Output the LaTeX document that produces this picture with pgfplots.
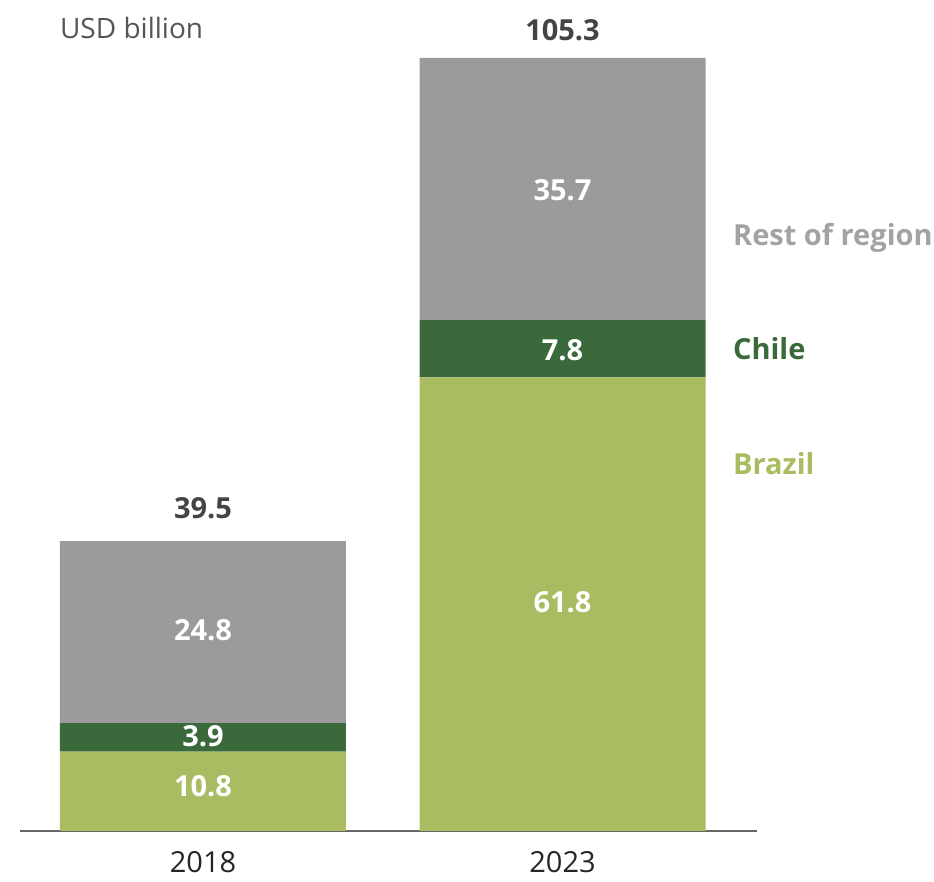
\documentclass[border=0pt]{standalone}
\usepackage{pgfplots}
\pgfplotsset{compat=1.18}
\usepackage{fontspec}
\setmainfont{Open Sans}

\definecolor{restgray}{HTML}{9C9A9C}
\definecolor{chilegreen}{HTML}{3A6A3B}
\definecolor{brazilgreen}{HTML}{A9BC62}
\definecolor{totalgray}{HTML}{444444}
\definecolor{labelgray}{HTML}{555555}
\definecolor{restlabel}{HTML}{A3A3A3}

\tikzset{
  inbar/.style={font=\fontsize{29}{34}\selectfont\bfseries, text=white},
  total/.style={font=\fontsize{29}{34}\selectfont\bfseries, text=totalgray},
  serieslab/.style={font=\fontsize{29}{34}\selectfont\bfseries, anchor=base west, inner sep=0pt},
}

\begin{document}
\begin{tikzpicture}
\useasboundingbox (0,0) rectangle (934pt,882pt);
\begin{axis}[
  at={(20pt,51pt)}, anchor=south west,
  scale only axis, width=737pt, height=807.5pt,
  ybar stacked, bar width=286pt,
  xmin=-0.509, xmax=1.541, ymin=0, ymax=110,
  axis x line*=bottom, hide y axis,
  axis line style={draw=black!60, line width=1.5pt},
  xtick={0,1}, xticklabels={2018,2023},
  major tick length=0pt,
  xticklabel style={font=\fontsize{29}{34}\selectfont, text=black!85, yshift=-17pt},
  clip=false,
]
\addplot[fill=brazilgreen, draw=none] coordinates {(0,10.8) (1,61.8)};
\addplot[fill=chilegreen, draw=none] coordinates {(0,3.9) (1,7.8)};
\addplot[fill=restgray, draw=none] coordinates {(0,24.8) (1,35.7)};

\coordinate (b18) at (axis cs:0,6.1);
\coordinate (c18) at (axis cs:0,12.9);
\coordinate (r18) at (axis cs:0,27.4);
\coordinate (b23) at (axis cs:1,31.1);
\coordinate (c23) at (axis cs:1,65.5);
\coordinate (r23) at (axis cs:1,87.3);

\node[total] at (axis cs:0,44.0) {39.5};
\node[total] at (axis cs:1,109.1) {105.3};

\node[serieslab, text=restlabel] at (axis cs:1.474,79.7) {Rest of region};
\node[serieslab, text=chilegreen] at (axis cs:1.474,64.2) {Chile};
\node[serieslab, text=brazilgreen] at (axis cs:1.474,48.5) {Brazil};

\node[anchor=base west, inner sep=0pt, text=labelgray, font=\fontsize{28}{33}\selectfont] at (axis cs:-0.398,107.9) {USD billion};
\end{axis}
\node[inbar] at (b18) {10.8};
\node[inbar] at (c18) {3.9};
\node[inbar] at (r18) {24.8};
\node[inbar] at (b23) {61.8};
\node[inbar] at (c23) {7.8};
\node[inbar] at (r23) {35.7};
\end{tikzpicture}
\end{document}
